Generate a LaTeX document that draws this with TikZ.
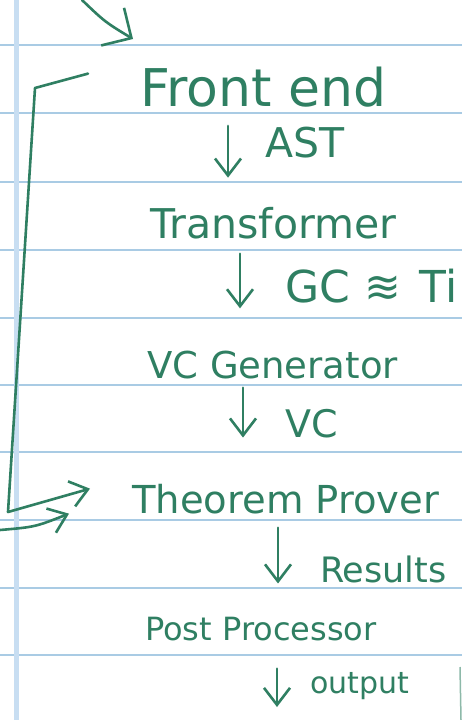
\documentclass[tikz,border=0pt]{standalone}
\usepackage{fontspec}
\setmainfont{DejaVu Sans}
\usetikzlibrary{arrows.meta, calc}

\definecolor{ink}{HTML}{2F7F62}
\definecolor{rulecol}{HTML}{A9CBE4}
\definecolor{margincol}{HTML}{C8DEF2}

\tikzset{
  stage/.style={anchor=base west, inner sep=0pt, text=ink},
  tag/.style={anchor=base west, inner sep=0pt, text=ink},
  flow/.style={draw=ink, line width=2.6pt, line cap=round, line join=round,
               -{Straight Barb[length=17pt, width=26pt]}},
  bighead/.style={draw=ink, line width=2.6pt, line cap=round, line join=round,
               -{Straight Barb[length=22pt, width=44pt]}},
}

\begin{document}
\begin{tikzpicture}[x=1pt, y=-1pt]
  \useasboundingbox (0,0) rectangle (462,720);
  % Paper
  \fill[white] (0,0) rectangle (462,720);
  \foreach \y in {45,113,182,250,318,385,452,520,588,655}
    \draw[rulecol, line width=1.2pt] (0,\y) -- (462,\y);
  \draw[margincol, line width=5pt] (16,0) -- (16,720);

  % Stages
  \node[stage, font=\fontsize{52}{52}\selectfont] (fe) at (140,106) {Front end};
  \node[stage, font=\fontsize{41}{41}\selectfont] (tr) at (150,238) {Transformer};
  \node[stage, font=\fontsize{37}{37}\selectfont] (vg) at (147,378) {VC Generator};
  \node[stage, font=\fontsize{38.5}{38.5}\selectfont] (tp) at (132,513) {Theorem Prover};
  \node[stage, font=\fontsize{32}{32}\selectfont] (pp) at (145,640) {Post Processor};

  % Arrow labels
  \node[tag, font=\fontsize{41}{41}\selectfont] (ast) at (265,157) {AST};
  \node[tag, font=\fontsize{44}{44}\selectfont] (gc) at (285,302)
    {GC\hspace{15pt}≋\hspace{18pt}Ti};
  \node[tag, font=\fontsize{38}{38}\selectfont] (vcl) at (285,437) {VC};
  \node[tag, font=\fontsize{35}{35}\selectfont] (res) at (320,582) {Results};
  \node[tag, font=\fontsize{30}{30}\selectfont] (out) at (310,693) {output};

  % Free ends
  \coordinate (topin) at (82,0);
  \coordinate (fein) at (133,39);
  \coordinate (lt) at (35,88);
  \coordinate (lb) at (8,512);
  \coordinate (leftin) at (0,530);
  \coordinate (ppout) at (277,707);

  % Pipeline arrows
  \draw[flow, shorten <=19pt, shorten >=29pt]
    ($(fe.south -| ast.west)+(-37,0)$) -- ($(tr.north -| ast.west)+(-37,0)$);
  \draw[flow, shorten <=15pt, shorten >=42pt]
    ($(tr.south -| gc.west)+(-45,0)$) -- ($(vg.north -| gc.west)+(-45,0)$);
  \draw[flow, shorten <=9pt, shorten >=46pt]
    ($(vg.south -| vcl.west)+(-42,0)$) -- ($(tp.north -| vcl.west)+(-42,0)$);
  \draw[flow, shorten <=14pt, shorten >=33pt]
    ($(tp.south -| res.west)+(-42,0)$) -- ($(pp.north -| res.west)+(-42,0)$);
  \draw[flow, shorten <=28pt]
    ($(pp.south -| out.west)+(-33,0)$) -- (ppout);

  % Incoming from above
  \draw[bighead] (topin) .. controls (105,22) .. (fein);

  % Loop back from front end
  \draw[flow] ($(fe.west)+(-52,-13)$) -- (lt) -- (lb) -- ($(tp.west)+(-42,-10)$);

  % Incoming from the left
  \draw[flow] (leftin) .. controls (35,527) .. ($(tp.west)+(-63,15)$);

  % Stray stroke at the edge
  \draw[ink!55, line width=1.5pt] (460,667) -- (461,720);
\end{tikzpicture}
\end{document}
